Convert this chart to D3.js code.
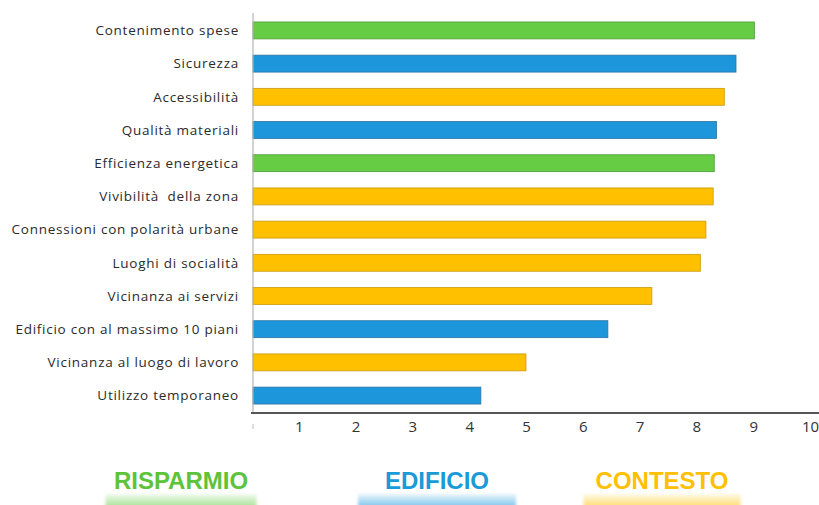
<!DOCTYPE html>
<html>
<head>
<meta charset="utf-8">
<script src="https://cdn.jsdelivr.net/npm/d3@7"></script>
<style>
  body { margin: 0; background: #fff; }
  svg { display: block; }
  .cat-label { font-family: "Open Sans", sans-serif; font-size: 13.5px; letter-spacing: 0.75px; fill: #2b2b2b; }
  .tick text { font-family: "Open Sans", sans-serif; font-size: 15px; fill: #333; }
  .group-label { font-family: "Liberation Sans", Arial, sans-serif; font-weight: bold; font-size: 24px; }
</style>
</head>
<body>
<div class="container_graph"></div>
<script>
// dati
const categories = [
  "Contenimento spese", "Sicurezza", "Accessibilità", "Qualità materiali",
  "Efficienza energetica", "Vivibilità  della zona", "Connessioni con polarità urbane",
  "Luoghi di socialità", "Vicinanza ai servizi", "Edificio con al massimo 10 piani",
  "Vicinanza al luogo di lavoro", "Utilizzo temporaneo"
];
const values = [9.0, 8.67, 8.46, 8.32, 8.28, 8.26, 8.13, 8.03, 7.16, 6.37, 4.9, 4.09];
const groupOf = [
  "RISPARMIO", "EDIFICIO", "CONTESTO", "EDIFICIO", "RISPARMIO", "CONTESTO",
  "CONTESTO", "CONTESTO", "CONTESTO", "EDIFICIO", "CONTESTO", "EDIFICIO"
];
const groups = ["RISPARMIO", "EDIFICIO", "CONTESTO"];
const tickValues = [0, 1, 2, 3, 4, 5, 6, 7, 8, 9, 10];

const fills = { RISPARMIO: "#66cc44", EDIFICIO: "#1e96dc", CONTESTO: "#ffc000" };
const strokes = { RISPARMIO: "#4f9c36", EDIFICIO: "#2a72a3", CONTESTO: "#c79a10" };
const textColors = { RISPARMIO: "#5cc33a", EDIFICIO: "#1a9ad8", CONTESTO: "#ffc000" };

const width = 819, height = 505;
const data = categories.map((c, i) => ({ cat: c, value: values[i], group: groupOf[i] }));

const svg = d3.select(".container_graph")
  .append("svg")
  .attr("width", width)
  .attr("height", height);

const defs = svg.append("defs");
defs.append("filter").attr("id", "blur")
  .attr("x", "-10%").attr("y", "-50%").attr("width", "120%").attr("height", "200%")
  .append("feGaussianBlur").attr("stdDeviation", 1.8);
groups.forEach((g) => {
  const grad = defs.append("linearGradient")
    .attr("id", "grad-" + g)
    .attr("x1", 0).attr("y1", 0).attr("x2", 0).attr("y2", 1);
  grad.append("stop").attr("offset", "0%").attr("stop-color", fills[g]).attr("stop-opacity", 0.1);
  grad.append("stop").attr("offset", "100%").attr("stop-color", fills[g]).attr("stop-opacity", 0.6);
});

// scale
const x = d3.scaleLinear().domain([0, 10.16]).range([253, 819]);
const xLabels = d3.scaleLinear().domain([0, 10]).range([242, 810]);
const y = d3.scaleBand()
  .domain(categories)
  .range([13, 413])
  .paddingInner(0.49)
  .paddingOuter(0.27);

// barre
svg.append("g")
  .selectAll("rect")
  .data(data)
  .enter()
  .append("rect")
  .attr("x", x(0))
  .attr("y", (d) => y(d.cat))
  .attr("width", (d) => x(d.value) - x(0))
  .attr("height", y.bandwidth())
  .attr("fill", (d) => fills[d.group])
  .attr("stroke", (d) => strokes[d.group])
  .attr("stroke-width", 0.8);

// etichette categorie
svg.append("g")
  .selectAll("text")
  .data(data)
  .enter()
  .append("text")
  .attr("class", "cat-label")
  .attr("x", 239)
  .attr("y", (d) => y(d.cat) + y.bandwidth() / 2)
  .attr("dy", "0.35em")
  .attr("text-anchor", "end")
  .style("white-space", "pre")
  .text((d) => d.cat);

// assi
svg.append("line")
  .attr("x1", x(0)).attr("x2", x(0))
  .attr("y1", 13).attr("y2", 413)
  .attr("stroke", "#b5b5b5").attr("stroke-width", 1.2);

svg.append("line")
  .attr("x1", x(0) - 2).attr("x2", width)
  .attr("y1", 413).attr("y2", 413)
  .attr("stroke", "#555").attr("stroke-width", 1.8);

const xAxis = d3.axisBottom(xLabels)
  .tickValues(tickValues)
  .tickSize(0)
  .tickPadding(8)
  .tickFormat((d) => (d === 0 ? "" : d));

const gx = svg.append("g")
  .attr("transform", "translate(0, 413)")
  .call(xAxis);
gx.select(".domain").remove();

svg.append("line")
  .attr("x1", x(0)).attr("x2", x(0))
  .attr("y1", 424).attr("y2", 429)
  .attr("stroke", "#bbb").attr("stroke-width", 1);

// legenda gruppi
const legendCenters = { RISPARMIO: 181, EDIFICIO: 437, CONTESTO: 662 };
const barWidths = { RISPARMIO: 151, EDIFICIO: 158, CONTESTO: 157 };

const legend = svg.append("g");
legend.selectAll("rect")
  .data(groups)
  .enter()
  .append("rect")
  .attr("x", (d) => legendCenters[d] - barWidths[d] / 2)
  .attr("y", 494)
  .attr("width", (d) => barWidths[d])
  .attr("height", 14)
  .attr("fill", (d) => `url(#grad-${d})`)
  .attr("filter", "url(#blur)");

legend.selectAll("text")
  .data(groups)
  .enter()
  .append("text")
  .attr("class", "group-label")
  .attr("x", (d) => legendCenters[d])
  .attr("y", 489)
  .attr("text-anchor", "middle")
  .attr("fill", (d) => textColors[d])
  .text((d) => d);
</script>
</body>
</html>
